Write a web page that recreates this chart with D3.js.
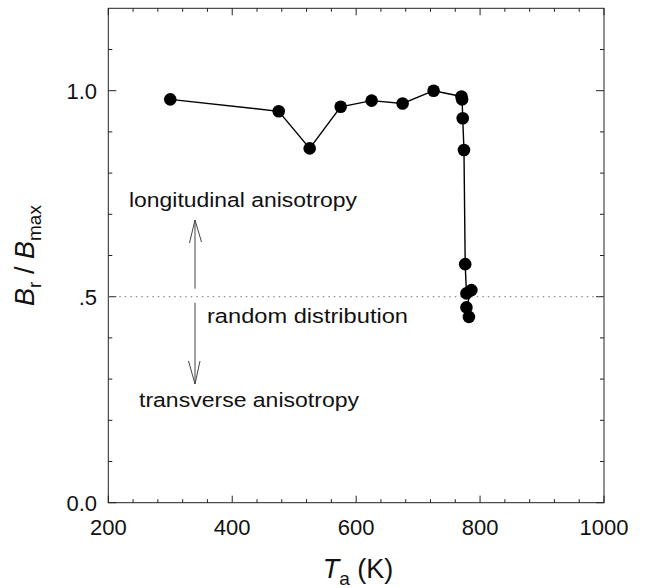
<!DOCTYPE html>
<html><head><meta charset="utf-8">
<script src="https://cdn.jsdelivr.net/npm/d3@7"></script>
<style>body{margin:0;background:#fff}svg{display:block}</style>
</head><body>
<svg id="c" width="646" height="588"></svg>
<script>
// Data (annealing temperature in K, remanence ratio)
const tempK = [300, 475, 525, 575, 625, 675, 725, 770, 771, 772, 774, 776, 778, 786, 778, 782];
const ratio = [0.979, 0.950, 0.860, 0.961, 0.976, 0.969, 1.000, 0.986, 0.979, 0.933, 0.856, 0.579, 0.508, 0.516, 0.474, 0.451];
const xMajor = [200, 400, 600, 800, 1000];
const yMajor = [0.0, 0.5, 1.0];
const yLabels = ["0.0", ".5", "1.0"];
const annotations = ["longitudinal anisotropy", "random distribution", "transverse anisotropy"];
const randomLevel = 0.5;

const svg = d3.select("#c");
const FONT = "'Liberation Sans', Arial, Helvetica, sans-serif";
const L = 108.3, R = 604, T = 8.3, B = 502.7;
const x = d3.scaleLinear().domain([200, 1000]).range([L, R]);
const y = d3.scaleLinear().domain([0, 1.2]).range([B, T]);

// frame
svg.append("rect").attr("x", L).attr("y", T).attr("width", R - L).attr("height", B - T)
  .attr("fill", "none").attr("stroke", "#222").attr("stroke-width", 1);

// ticks (inward, all sides)
const xMinor = d3.range(200, 1001, 40).filter(v => !xMajor.includes(v));
const yMinor = d3.range(0, 12).map(i => i / 10).filter(v => !yMajor.some(m => Math.abs(m - v) < 1e-9));
const g = svg.append("g").attr("stroke", "#222").attr("stroke-width", 1);
function xt(vals, len) {
  vals.forEach(v => {
    g.append("line").attr("x1", x(v)).attr("x2", x(v)).attr("y1", B).attr("y2", B - len);
    g.append("line").attr("x1", x(v)).attr("x2", x(v)).attr("y1", T).attr("y2", T + len);
  });
}
function yt(vals, len) {
  vals.forEach(v => {
    g.append("line").attr("y1", y(v)).attr("y2", y(v)).attr("x1", L).attr("x2", L + len);
    g.append("line").attr("y1", y(v)).attr("y2", y(v)).attr("x1", R).attr("x2", R - len);
  });
}
xt(xMajor, 7); xt(xMinor, 3.5); yt(yMajor, 8); yt(yMinor, 4);

// tick labels
svg.append("g").selectAll("text").data(xMajor).join("text")
  .attr("x", d => x(d)).attr("y", 535).attr("text-anchor", "middle")
  .attr("font-family", FONT).attr("font-size", 22).attr("fill", "#111").text(d => d);
svg.append("g").selectAll("text").data(yMajor).join("text")
  .attr("x", 97).attr("y", d => y(d) + 8).attr("text-anchor", "end")
  .attr("font-family", FONT).attr("font-size", 22).attr("fill", "#111").text((d, i) => yLabels[i]);

// axis titles
const xt2 = svg.append("text").attr("x", 358).attr("y", 578).attr("text-anchor", "middle")
  .attr("font-family", FONT).attr("font-size", 27).attr("fill", "#111");
xt2.append("tspan").attr("font-style", "italic").text("T");
xt2.append("tspan").attr("font-size", 19).attr("dy", 7).text("a");
xt2.append("tspan").attr("dy", -7).text(" (K)");

const yt2 = svg.append("text").attr("transform", `translate(34,${(T + B) / 2}) rotate(-90)`)
  .attr("text-anchor", "middle").attr("font-family", FONT).attr("font-size", 27).attr("fill", "#111");
yt2.append("tspan").attr("font-style", "italic").text("B");
yt2.append("tspan").attr("font-size", 19).attr("dy", 7).text("r");
yt2.append("tspan").attr("dy", -7).text(" / ");
yt2.append("tspan").attr("font-style", "italic").text("B");
yt2.append("tspan").attr("font-size", 19).attr("dy", 7).text("max");

// random distribution level
svg.append("line").attr("x1", L).attr("x2", R).attr("y1", y(randomLevel)).attr("y2", y(randomLevel))
  .attr("stroke", "#777").attr("stroke-width", 1).attr("stroke-dasharray", "1.5,4");

// arrows
const ax = 195;
const ag = svg.append("g").attr("stroke", "#444").attr("stroke-width", 1).attr("fill", "none");
ag.append("line").attr("x1", ax).attr("x2", ax).attr("y1", y(randomLevel) - 8).attr("y2", 220);
ag.append("path").attr("d", `M${ax - 5.5},243 L${ax},220 L${ax + 6.5},242`);
ag.append("line").attr("x1", ax).attr("x2", ax).attr("y1", y(randomLevel) + 6).attr("y2", 384);
ag.append("path").attr("d", `M${ax - 6.5},361 L${ax},384 L${ax + 5},361`);

// annotation texts
const annPos = [[129, 207, 228], [207, 322.5, 201], [139, 406.5, 220]];
svg.append("g").selectAll("text").data(annotations).join("text")
  .attr("x", (d, i) => annPos[i][0]).attr("y", (d, i) => annPos[i][1])
  .attr("textLength", (d, i) => annPos[i][2]).attr("lengthAdjust", "spacingAndGlyphs")
  .attr("font-family", FONT).attr("font-size", 20.5).attr("fill", "#111").text(d => d);

// data line and points
const pts = tempK.map((t, i) => [t, ratio[i]]);
svg.append("path").datum(pts)
  .attr("d", d3.line().x(d => x(d[0])).y(d => y(d[1])))
  .attr("fill", "none").attr("stroke", "#000").attr("stroke-width", 1.4);
svg.append("g").selectAll("circle").data(pts).join("circle")
  .attr("cx", d => x(d[0])).attr("cy", d => y(d[1])).attr("r", 6.3).attr("fill", "#000");
</script>
</body></html>
